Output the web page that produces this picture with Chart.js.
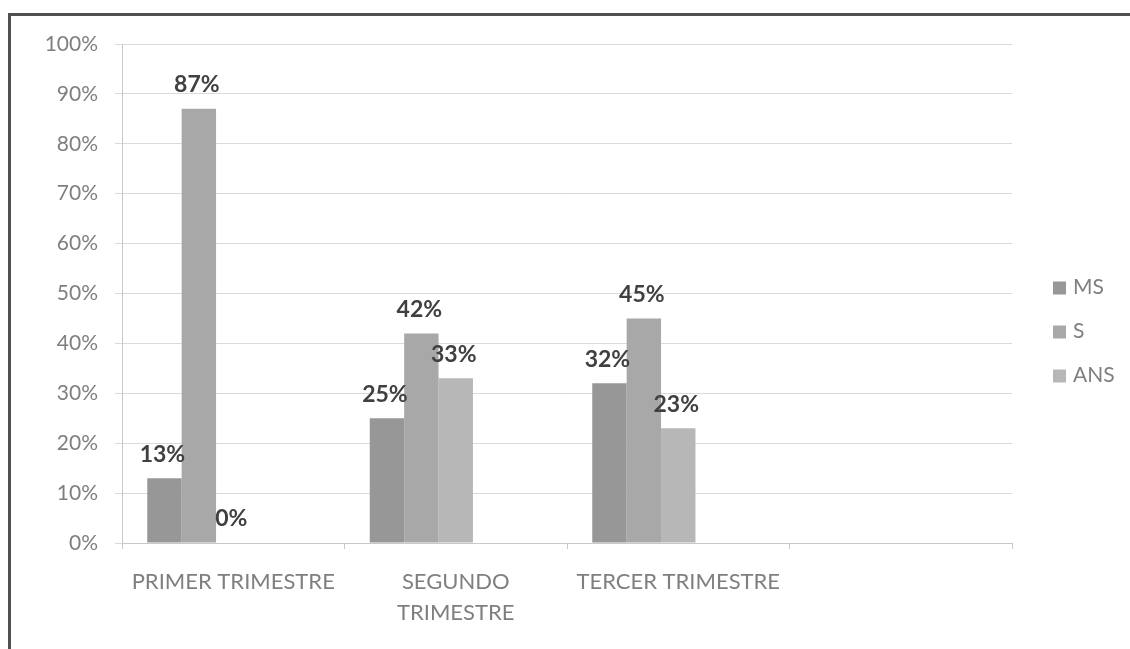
<!DOCTYPE html>
<html lang="es">
<head>
<meta charset="utf-8">
<title>Resultados por trimestre</title>
<script src="https://cdn.jsdelivr.net/npm/chart.js@4.4.1/dist/chart.umd.min.js"></script>
<style>
    html, body { margin: 0; padding: 0; background: #fff; }
    #wrap { position: relative; width: 1130px; height: 649px; overflow: hidden; }
    #frame {
        position: absolute; left: 8px; top: 13px; width: 1200px; height: 700px;
        border-left: 3px solid #505050; border-top: 3px solid #505050;
        pointer-events: none;
    }
    canvas { position: absolute; left: 0; top: 0; }
</style>
</head>
<body>
<div id="wrap">
    <canvas id="chart" width="1130" height="649"></canvas>
    <div id="frame"></div>
</div>
<script>
// Categories (the fourth slot is left empty, as in the original sheet)
const trimestres = ['PRIMER TRIMESTRE', ['SEGUNDO', 'TRIMESTRE'], 'TERCER TRIMESTRE', ''];

// Percentages per series
const ms  = [13, 25, 32];
const s   = [87, 42, 45];
const ans = [0, 33, 23];

// Two empty series that still reserve room in each group
const vacio1 = [];
const vacio2 = [];

const yTicks = [0, 10, 20, 30, 40, 50, 60, 70, 80, 90, 100];

const series = [
    { label: 'MS',  data: ms,  color: '#979797' },
    { label: 'S',   data: s,   color: '#a8a8a8' },
    { label: 'ANS', data: ans, color: '#b7b7b7' }
];

const FONT = 'Lato, "Open Sans", sans-serif';

// Value labels above each bar
const valueLabels = {
    id: 'valueLabels',
    afterDatasetsDraw(chart) {
        const ctx = chart.ctx;
        ctx.save();
        ctx.font = 'bold 23px ' + FONT;
        ctx.fillStyle = '#404040';
        ctx.textAlign = 'center';
        ctx.textBaseline = 'middle';
        series.forEach((ser, i) => {
            chart.getDatasetMeta(i).data.forEach((bar, j) => {
                ctx.fillText(ser.data[j] + '%', bar.x - 2, bar.y - 24);
            });
        });
        ctx.restore();
    }
};

// Legend at the right of the plot
const sideLegend = {
    id: 'sideLegend',
    afterDraw(chart) {
        const ctx = chart.ctx;
        const area = chart.chartArea;
        const x = area.right + 41;
        const y0 = (area.top + area.bottom) / 2 - 6;
        ctx.save();
        ctx.font = '21px ' + FONT;
        ctx.textBaseline = 'middle';
        series.forEach((ser, i) => {
            const y = y0 + i * 44;
            ctx.fillStyle = ser.color;
            ctx.fillRect(x, y - 6, 13, 13);
            ctx.fillStyle = '#7f7f7f';
            ctx.fillText(ser.label, x + 20, y);
        });
        ctx.restore();
    }
};

const datasets = series.map(ser => ({
    label: ser.label,
    data: ser.data,
    backgroundColor: ser.color
}));
datasets.push({ label: '', data: vacio1, backgroundColor: '#c5c5c5' });
datasets.push({ label: '', data: vacio2, backgroundColor: '#d0d0d0' });

new Chart(document.getElementById('chart'), {
    type: 'bar',
    data: { labels: trimestres, datasets: datasets },
    plugins: [valueLabels, sideLegend],
    options: {
        responsive: false,
        animation: false,
        layout: { padding: { top: 44, right: 118, bottom: 0, left: 0 } },
        datasets: { bar: { categoryPercentage: 0.773, barPercentage: 1 } },
        plugins: {
            legend: { display: false },
            tooltip: { enabled: false }
        },
        scales: {
            x: {
                grid: { drawOnChartArea: false, color: '#c8c8c8', tickLength: 6, offset: true },
                border: { color: '#c8c8c8' },
                ticks: {
                    color: '#7f7f7f',
                    font: { family: FONT, size: 22, lineHeight: 1.4 },
                    padding: 18,
                    maxRotation: 0,
                    autoSkip: false
                },
                afterFit(scale) { scale.height = 106; }
            },
            y: {
                min: 0,
                max: 100,
                afterBuildTicks(scale) { scale.ticks = yTicks.map(v => ({ value: v })); },
                grid: { color: '#dadada', tickLength: 7 },
                border: { color: '#c8c8c8' },
                ticks: {
                    color: '#7f7f7f',
                    font: { family: FONT, size: 21 },
                    padding: 17,
                    callback: v => v + '%'
                },
                afterFit(scale) { scale.width = 122; }
            }
        }
    }
});
</script>
</body>
</html>
